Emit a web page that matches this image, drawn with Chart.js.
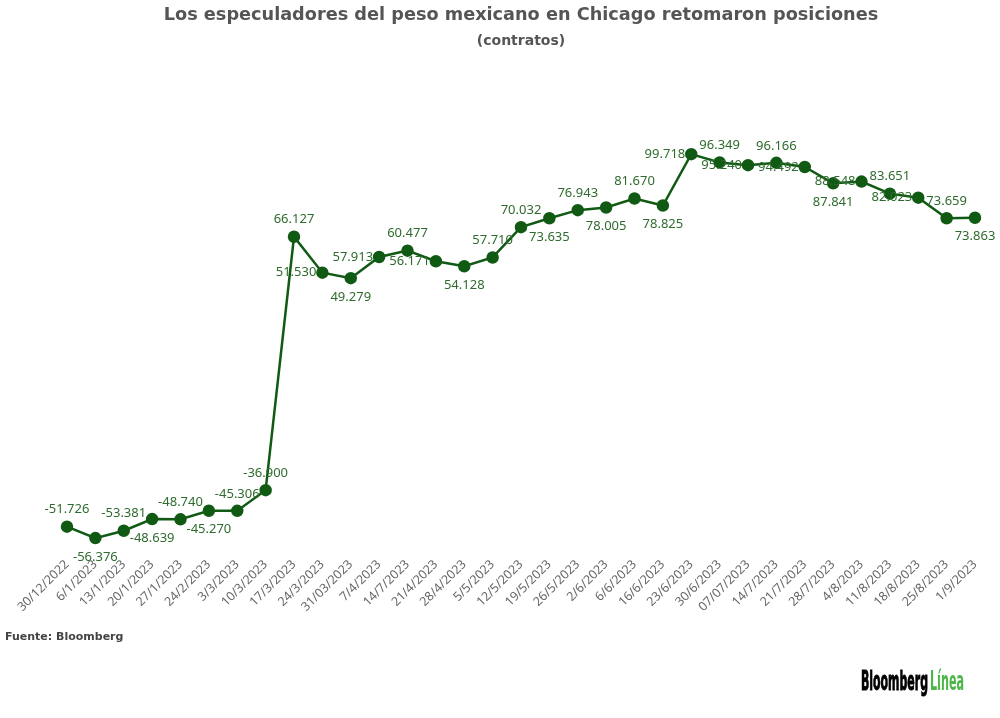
<!DOCTYPE html>
<html>
<head>
<meta charset="utf-8">
<script src="https://cdn.jsdelivr.net/npm/chart.js@4.4.0/dist/chart.umd.min.js"></script>
<style>
html,body{margin:0;padding:0;background:#fff;}
#wrap{position:relative;width:1000px;height:718px;}
</style>
</head>
<body>
<div id="wrap"><canvas id="c"></canvas></div>
<script>
// ---- data ----
const dates = ['30/12/2022','6/1/2023','13/1/2023','20/1/2023','27/1/2023','24/2/2023','3/3/2023','10/3/2023','17/3/2023','24/3/2023','31/03/2023','7/4/2023','14/7/2023','21/4/2023','28/4/2023','5/5/2023','12/5/2023','19/5/2023','26/5/2023','2/6/2023','6/6/2023','16/6/2023','23/6/2023','30/6/2023','07/07/2023','14/7/2023','21/7/2023','28/7/2023','4/8/2023','11/8/2023','18/8/2023','25/8/2023','1/9/2023'];
const contracts = [-51726,-56376,-53381,-48639,-48740,-45270,-45306,-36900,66127,51530,49279,57913,60477,56171,54128,57710,70032,73635,76943,78005,81670,78825,99718,96349,95240,96166,94492,87841,88548,83651,82023,73659,73863];
// label placement per point: a = above, b = below, l = left
const labelPlacement = ['a','b','a','b','a','b','a','a','a','l','b','l','a','l','b','a','a','b','a','b','a','b','l','a','l','a','l','b','l','a','l','a','b'];
const titleText = 'Los especuladores del peso mexicano en Chicago retomaron posiciones';
const subtitleText = '(contratos)';
const sourceText = 'Fuente: Bloomberg';

function fmt(v){
  const s = Math.abs(v).toString();
  const grouped = s.replace(/\B(?=(\d{3})+(?!\d))/g, '.');
  return (v < 0 ? '-' : '') + grouped;
}

const GREEN = '#115a14';
const LABEL_GREEN = '#2f6b2f';

const pointLabels = {
  id: 'pointLabels',
  afterDatasetsDraw(chart){
    const ctx = chart.ctx;
    const meta = chart.getDatasetMeta(0);
    const data = chart.data.datasets[0].data;
    ctx.save();
    ctx.font = '13px "Noto Sans", sans-serif';
    ctx.fillStyle = LABEL_GREEN;
    ctx.textBaseline = 'middle';
    meta.data.forEach((pt, i) => {
      const txt = fmt(data[i]);
      const p = labelPlacement[i];
      if (p === 'a') { ctx.textAlign = 'center'; ctx.fillText(txt, pt.x, pt.y - 17); }
      else if (p === 'b') { ctx.textAlign = 'center'; ctx.fillText(txt, pt.x, pt.y + 19); }
      else { ctx.textAlign = 'right'; ctx.fillText(txt, pt.x - 6, pt.y); }
    });
    ctx.restore();
  }
};

const footer = {
  id: 'footer',
  afterDraw(chart){
    const ctx = chart.ctx;
    ctx.save();
    ctx.font = 'bold 11px "DejaVu Sans", sans-serif';
    ctx.fillStyle = '#444';
    ctx.textAlign = 'left';
    ctx.textBaseline = 'middle';
    ctx.fillText(sourceText, 5, 637);
    // logo
    ctx.textBaseline = 'alphabetic';
    ctx.font = 'bold 27px "Liberation Sans Narrow", "DejaVu Sans Condensed", sans-serif';
    const w1 = ctx.measureText('Bloomberg').width;
    ctx.save();
    ctx.translate(861, 690);
    ctx.scale(67 / w1, 1);
    ctx.fillStyle = '#000';
    ctx.strokeStyle = '#000';
    ctx.lineWidth = 1;
    ctx.fillText('Bloomberg', 0, 0);
    ctx.strokeText('Bloomberg', 0, 0);
    ctx.restore();
    ctx.font = 'bold 27px "Liberation Sans Narrow", "DejaVu Sans Condensed", sans-serif';
    const w2 = ctx.measureText('Línea').width;
    ctx.save();
    ctx.translate(930, 690);
    ctx.scale(34 / w2, 1);
    ctx.fillStyle = '#4cb648';
    ctx.fillText('Línea', 0, 0);
    ctx.restore();
    ctx.restore();
  }
};

Chart.register(pointLabels, footer);

new Chart(document.getElementById('c'), {
  type: 'line',
  data: {
    labels: dates,
    datasets: [{
      data: contracts,
      borderColor: GREEN,
      backgroundColor: GREEN,
      borderWidth: 2.5,
      pointRadius: 5,
      pointHoverRadius: 5,
      pointBackgroundColor: GREEN,
      pointBorderColor: GREEN,
      tension: 0
    }]
  },
  options: {
    responsive: true,
    maintainAspectRatio: false,
    animation: false,
    events: [],
    layout: { padding: { top: 0, left: 67, right: 25, bottom: 91 } },
    plugins: {
      legend: { display: false },
      tooltip: { enabled: false },
      title: {
        display: true,
        text: titleText,
        color: '#555',
        font: { family: '"DejaVu Sans", sans-serif', size: 17.7, weight: 'bold', lineHeight: 1.2 },
        padding: { top: 5, bottom: 5 }
      },
      subtitle: {
        display: true,
        text: subtitleText,
        color: '#555',
        font: { family: '"DejaVu Sans", sans-serif', size: 14, weight: 'bold', lineHeight: 1.2 },
        padding: { top: 2, bottom: 54.2 }
      }
    },
    scales: {
      x: {
        offset: false,
        grid: { display: false, drawTicks: false },
        border: { display: false },
        afterFit(scale){ scale.height = 80; },
        ticks: {
          autoSkip: false,
          minRotation: 45,
          maxRotation: 45,
          padding: 10,
          color: '#666',
          font: { family: '"Noto Sans", sans-serif', size: 12.5 }
        }
      },
      y: {
        display: false,
        min: -60000,
        max: 120000
      }
    }
  }
});
</script>
</body>
</html>
